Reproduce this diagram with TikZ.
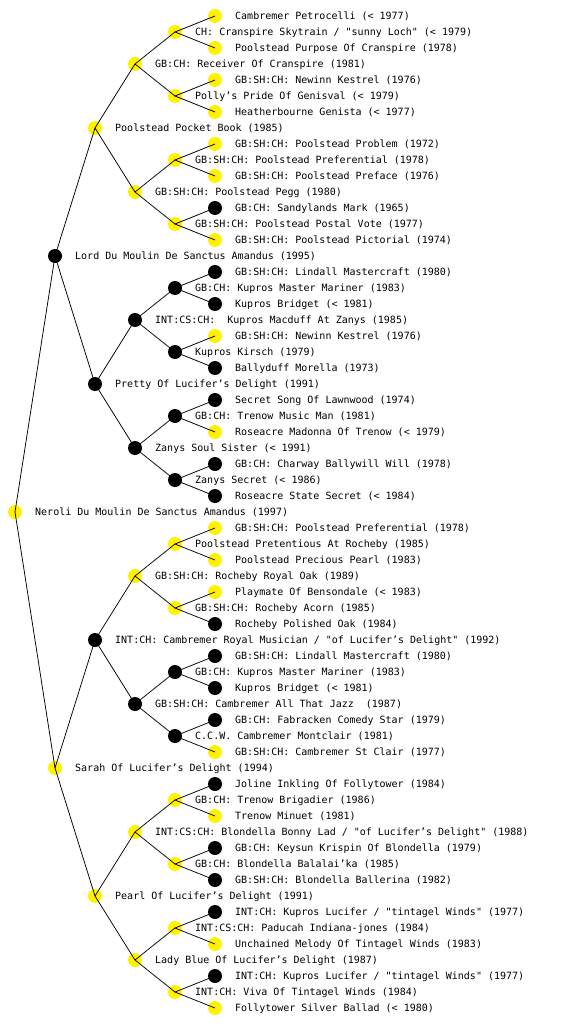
\documentclass[tikz,border=0pt]{standalone}
\usepackage{fontspec}
\setmonofont{DejaVu Sans Mono}
\usepackage{tikz}

\begin{document}
\begin{tikzpicture}[
    x=1pt, y=-1pt,
    dog/.style={
        circle,
        draw=none,
        minimum size=14pt,
        inner sep=0pt
    },
    yel/.style={dog, fill=yellow},
    blk/.style={dog, fill=black},
    lbl/.style={
        anchor=base west,
        inner sep=0pt,
        font=\ttfamily\fontsize{10}{12}\selectfont
    },
    edge/.style={
        line width=0.75pt,
        black
    }
]

\useasboundingbox (0,0) rectangle (560,1024);

% ---------------- GENERATION 0 ----------------

\node[yel] (n) at (15,512) {};
\node[lbl] (t-n) at ([shift={(20,3.6)}]n.center) {Neroli Du Moulin De Sanctus Amandus (1997)};

% ---------------- GENERATION 1 ----------------

\node[blk] (s) at (55,256) {};
\node[lbl] (t-s) at ([shift={(20,3.6)}]s.center) {Lord Du Moulin De Sanctus Amandus (1995)};
\node[yel] (d) at (55,768) {};
\node[lbl] (t-d) at ([shift={(20,3.6)}]d.center) {Sarah Of Lucifer’s Delight (1994)};

% ---------------- GENERATION 2 ----------------

\node[yel] (ss) at (95,128) {};
\node[lbl] (t-ss) at ([shift={(20,3.6)}]ss.center) {Poolstead Pocket Book (1985)};
\node[blk] (sd) at (95,384) {};
\node[lbl] (t-sd) at ([shift={(20,3.6)}]sd.center) {Pretty Of Lucifer’s Delight (1991)};
\node[blk] (ds) at (95,640) {};
\node[lbl] (t-ds) at ([shift={(20,3.6)}]ds.center) {INT:CH: Cambremer Royal Musician / "of Lucifer’s Delight" (1992)};
\node[yel] (dd) at (95,896) {};
\node[lbl] (t-dd) at ([shift={(20,3.6)}]dd.center) {Pearl Of Lucifer’s Delight (1991)};

% ---------------- GENERATION 3 ----------------

\node[yel] (sss) at (135,64) {};
\node[lbl] (t-sss) at ([shift={(20,3.6)}]sss.center) {GB:CH: Receiver Of Cranspire (1981)};
\node[yel] (ssd) at (135,192) {};
\node[lbl] (t-ssd) at ([shift={(20,3.6)}]ssd.center) {GB:SH:CH: Poolstead Pegg (1980)};
\node[blk] (sds) at (135,320) {};
\node[lbl] (t-sds) at ([shift={(20,3.6)}]sds.center) {INT:CS:CH:\ \ Kupros Macduff At Zanys (1985)};
\node[blk] (sdd) at (135,448) {};
\node[lbl] (t-sdd) at ([shift={(20,3.6)}]sdd.center) {Zanys Soul Sister (< 1991)};
\node[yel] (dss) at (135,576) {};
\node[lbl] (t-dss) at ([shift={(20,3.6)}]dss.center) {GB:SH:CH: Rocheby Royal Oak (1989)};
\node[blk] (dsd) at (135,704) {};
\node[lbl] (t-dsd) at ([shift={(20,3.6)}]dsd.center) {GB:SH:CH: Cambremer All That Jazz\ \ (1987)};
\node[yel] (dds) at (135,832) {};
\node[lbl] (t-dds) at ([shift={(20,3.6)}]dds.center) {INT:CS:CH: Blondella Bonny Lad / "of Lucifer’s Delight" (1988)};
\node[yel] (ddd) at (135,960) {};
\node[lbl] (t-ddd) at ([shift={(20,3.6)}]ddd.center) {Lady Blue Of Lucifer’s Delight (1987)};

% ---------------- GENERATION 4 ----------------

\node[yel] (ssss) at (175,32) {};
\node[lbl] (t-ssss) at ([shift={(20,3.6)}]ssss.center) {CH: Cranspire Skytrain / "sunny Loch" (< 1979)};
\node[yel] (sssd) at (175,96) {};
\node[lbl] (t-sssd) at ([shift={(20,3.6)}]sssd.center) {Polly’s Pride Of Genisval (< 1979)};
\node[yel] (ssds) at (175,160) {};
\node[lbl] (t-ssds) at ([shift={(20,3.6)}]ssds.center) {GB:SH:CH: Poolstead Preferential (1978)};
\node[yel] (ssdd) at (175,224) {};
\node[lbl] (t-ssdd) at ([shift={(20,3.6)}]ssdd.center) {GB:SH:CH: Poolstead Postal Vote (1977)};
\node[blk] (sdss) at (175,288) {};
\node[lbl] (t-sdss) at ([shift={(20,3.6)}]sdss.center) {GB:CH: Kupros Master Mariner (1983)};
\node[blk] (sdsd) at (175,352) {};
\node[lbl] (t-sdsd) at ([shift={(20,3.6)}]sdsd.center) {Kupros Kirsch (1979)};
\node[blk] (sdds) at (175,416) {};
\node[lbl] (t-sdds) at ([shift={(20,3.6)}]sdds.center) {GB:CH: Trenow Music Man (1981)};
\node[blk] (sddd) at (175,480) {};
\node[lbl] (t-sddd) at ([shift={(20,3.6)}]sddd.center) {Zanys Secret (< 1986)};
\node[yel] (dsss) at (175,544) {};
\node[lbl] (t-dsss) at ([shift={(20,3.6)}]dsss.center) {Poolstead Pretentious At Rocheby (1985)};
\node[yel] (dssd) at (175,608) {};
\node[lbl] (t-dssd) at ([shift={(20,3.6)}]dssd.center) {GB:SH:CH: Rocheby Acorn (1985)};
\node[blk] (dsds) at (175,672) {};
\node[lbl] (t-dsds) at ([shift={(20,3.6)}]dsds.center) {GB:CH: Kupros Master Mariner (1983)};
\node[blk] (dsdd) at (175,736) {};
\node[lbl] (t-dsdd) at ([shift={(20,3.6)}]dsdd.center) {C.C.W. Cambremer Montclair (1981)};
\node[yel] (ddss) at (175,800) {};
\node[lbl] (t-ddss) at ([shift={(20,3.6)}]ddss.center) {GB:CH: Trenow Brigadier (1986)};
\node[yel] (ddsd) at (175,864) {};
\node[lbl] (t-ddsd) at ([shift={(20,3.6)}]ddsd.center) {GB:CH: Blondella Balalai’ka (1985)};
\node[yel] (ddds) at (175,928) {};
\node[lbl] (t-ddds) at ([shift={(20,3.6)}]ddds.center) {INT:CS:CH: Paducah Indiana-jones (1984)};
\node[yel] (dddd) at (175,992) {};
\node[lbl] (t-dddd) at ([shift={(20,3.6)}]dddd.center) {INT:CH: Viva Of Tintagel Winds (1984)};

% ---------------- GENERATION 5 ----------------

\node[yel] (sssss) at (215,16) {};
\node[lbl] (t-sssss) at ([shift={(20,3.6)}]sssss.center) {Cambremer Petrocelli (< 1977)};
\node[yel] (ssssd) at (215,48) {};
\node[lbl] (t-ssssd) at ([shift={(20,3.6)}]ssssd.center) {Poolstead Purpose Of Cranspire (1978)};
\node[yel] (sssds) at (215,80) {};
\node[lbl] (t-sssds) at ([shift={(20,3.6)}]sssds.center) {GB:SH:CH: Newinn Kestrel (1976)};
\node[yel] (sssdd) at (215,112) {};
\node[lbl] (t-sssdd) at ([shift={(20,3.6)}]sssdd.center) {Heatherbourne Genista (< 1977)};
\node[yel] (ssdss) at (215,144) {};
\node[lbl] (t-ssdss) at ([shift={(20,3.6)}]ssdss.center) {GB:SH:CH: Poolstead Problem (1972)};
\node[yel] (ssdsd) at (215,176) {};
\node[lbl] (t-ssdsd) at ([shift={(20,3.6)}]ssdsd.center) {GB:SH:CH: Poolstead Preface (1976)};
\node[blk] (ssdds) at (215,208) {};
\node[lbl] (t-ssdds) at ([shift={(20,3.6)}]ssdds.center) {GB:CH: Sandylands Mark (1965)};
\node[yel] (ssddd) at (215,240) {};
\node[lbl] (t-ssddd) at ([shift={(20,3.6)}]ssddd.center) {GB:SH:CH: Poolstead Pictorial (1974)};
\node[blk] (sdsss) at (215,272) {};
\node[lbl] (t-sdsss) at ([shift={(20,3.6)}]sdsss.center) {GB:SH:CH: Lindall Mastercraft (1980)};
\node[blk] (sdssd) at (215,304) {};
\node[lbl] (t-sdssd) at ([shift={(20,3.6)}]sdssd.center) {Kupros Bridget (< 1981)};
\node[yel] (sdsds) at (215,336) {};
\node[lbl] (t-sdsds) at ([shift={(20,3.6)}]sdsds.center) {GB:SH:CH: Newinn Kestrel (1976)};
\node[blk] (sdsdd) at (215,368) {};
\node[lbl] (t-sdsdd) at ([shift={(20,3.6)}]sdsdd.center) {Ballyduff Morella (1973)};
\node[blk] (sddss) at (215,400) {};
\node[lbl] (t-sddss) at ([shift={(20,3.6)}]sddss.center) {Secret Song Of Lawnwood (1974)};
\node[yel] (sddsd) at (215,432) {};
\node[lbl] (t-sddsd) at ([shift={(20,3.6)}]sddsd.center) {Roseacre Madonna Of Trenow (< 1979)};
\node[blk] (sddds) at (215,464) {};
\node[lbl] (t-sddds) at ([shift={(20,3.6)}]sddds.center) {GB:CH: Charway Ballywill Will (1978)};
\node[blk] (sdddd) at (215,496) {};
\node[lbl] (t-sdddd) at ([shift={(20,3.6)}]sdddd.center) {Roseacre State Secret (< 1984)};
\node[yel] (dssss) at (215,528) {};
\node[lbl] (t-dssss) at ([shift={(20,3.6)}]dssss.center) {GB:SH:CH: Poolstead Preferential (1978)};
\node[yel] (dsssd) at (215,560) {};
\node[lbl] (t-dsssd) at ([shift={(20,3.6)}]dsssd.center) {Poolstead Precious Pearl (1983)};
\node[yel] (dssds) at (215,592) {};
\node[lbl] (t-dssds) at ([shift={(20,3.6)}]dssds.center) {Playmate Of Bensondale (< 1983)};
\node[blk] (dssdd) at (215,624) {};
\node[lbl] (t-dssdd) at ([shift={(20,3.6)}]dssdd.center) {Rocheby Polished Oak (1984)};
\node[blk] (dsdss) at (215,656) {};
\node[lbl] (t-dsdss) at ([shift={(20,3.6)}]dsdss.center) {GB:SH:CH: Lindall Mastercraft (1980)};
\node[blk] (dsdsd) at (215,688) {};
\node[lbl] (t-dsdsd) at ([shift={(20,3.6)}]dsdsd.center) {Kupros Bridget (< 1981)};
\node[blk] (dsdds) at (215,720) {};
\node[lbl] (t-dsdds) at ([shift={(20,3.6)}]dsdds.center) {GB:CH: Fabracken Comedy Star (1979)};
\node[yel] (dsddd) at (215,752) {};
\node[lbl] (t-dsddd) at ([shift={(20,3.6)}]dsddd.center) {GB:SH:CH: Cambremer St Clair (1977)};
\node[blk] (ddsss) at (215,784) {};
\node[lbl] (t-ddsss) at ([shift={(20,3.6)}]ddsss.center) {Joline Inkling Of Follytower (1984)};
\node[yel] (ddssd) at (215,816) {};
\node[lbl] (t-ddssd) at ([shift={(20,3.6)}]ddssd.center) {Trenow Minuet (1981)};
\node[blk] (ddsds) at (215,848) {};
\node[lbl] (t-ddsds) at ([shift={(20,3.6)}]ddsds.center) {GB:CH: Keysun Krispin Of Blondella (1979)};
\node[blk] (ddsdd) at (215,880) {};
\node[lbl] (t-ddsdd) at ([shift={(20,3.6)}]ddsdd.center) {GB:SH:CH: Blondella Ballerina (1982)};
\node[blk] (dddss) at (215,912) {};
\node[lbl] (t-dddss) at ([shift={(20,3.6)}]dddss.center) {INT:CH: Kupros Lucifer / "tintagel Winds" (1977)};
\node[yel] (dddsd) at (215,944) {};
\node[lbl] (t-dddsd) at ([shift={(20,3.6)}]dddsd.center) {Unchained Melody Of Tintagel Winds (1983)};
\node[blk] (dddds) at (215,976) {};
\node[lbl] (t-dddds) at ([shift={(20,3.6)}]dddds.center) {INT:CH: Kupros Lucifer / "tintagel Winds" (1977)};
\node[yel] (ddddd) at (215,1008) {};
\node[lbl] (t-ddddd) at ([shift={(20,3.6)}]ddddd.center) {Follytower Silver Ballad (< 1980)};

% ---------------- LINES ----------------

% sire and dam of each dog
\draw[edge] (s.center) -- (n.center) -- (d.center);

\draw[edge] (ss.center) -- (s.center) -- (sd.center);
\draw[edge] (ds.center) -- (d.center) -- (dd.center);

\draw[edge] (sss.center) -- (ss.center) -- (ssd.center);
\draw[edge] (sds.center) -- (sd.center) -- (sdd.center);
\draw[edge] (dss.center) -- (ds.center) -- (dsd.center);
\draw[edge] (dds.center) -- (dd.center) -- (ddd.center);

\draw[edge] (ssss.center) -- (sss.center) -- (sssd.center);
\draw[edge] (ssds.center) -- (ssd.center) -- (ssdd.center);
\draw[edge] (sdss.center) -- (sds.center) -- (sdsd.center);
\draw[edge] (sdds.center) -- (sdd.center) -- (sddd.center);
\draw[edge] (dsss.center) -- (dss.center) -- (dssd.center);
\draw[edge] (dsds.center) -- (dsd.center) -- (dsdd.center);
\draw[edge] (ddss.center) -- (dds.center) -- (ddsd.center);
\draw[edge] (ddds.center) -- (ddd.center) -- (dddd.center);

\draw[edge] (sssss.center) -- (ssss.center) -- (ssssd.center);
\draw[edge] (sssds.center) -- (sssd.center) -- (sssdd.center);
\draw[edge] (ssdss.center) -- (ssds.center) -- (ssdsd.center);
\draw[edge] (ssdds.center) -- (ssdd.center) -- (ssddd.center);
\draw[edge] (sdsss.center) -- (sdss.center) -- (sdssd.center);
\draw[edge] (sdsds.center) -- (sdsd.center) -- (sdsdd.center);
\draw[edge] (sddss.center) -- (sdds.center) -- (sddsd.center);
\draw[edge] (sddds.center) -- (sddd.center) -- (sdddd.center);
\draw[edge] (dssss.center) -- (dsss.center) -- (dsssd.center);
\draw[edge] (dssds.center) -- (dssd.center) -- (dssdd.center);
\draw[edge] (dsdss.center) -- (dsds.center) -- (dsdsd.center);
\draw[edge] (dsdds.center) -- (dsdd.center) -- (dsddd.center);
\draw[edge] (ddsss.center) -- (ddss.center) -- (ddssd.center);
\draw[edge] (ddsds.center) -- (ddsd.center) -- (ddsdd.center);
\draw[edge] (dddss.center) -- (ddds.center) -- (dddsd.center);
\draw[edge] (dddds.center) -- (dddd.center) -- (ddddd.center);

\end{tikzpicture}
\end{document}
